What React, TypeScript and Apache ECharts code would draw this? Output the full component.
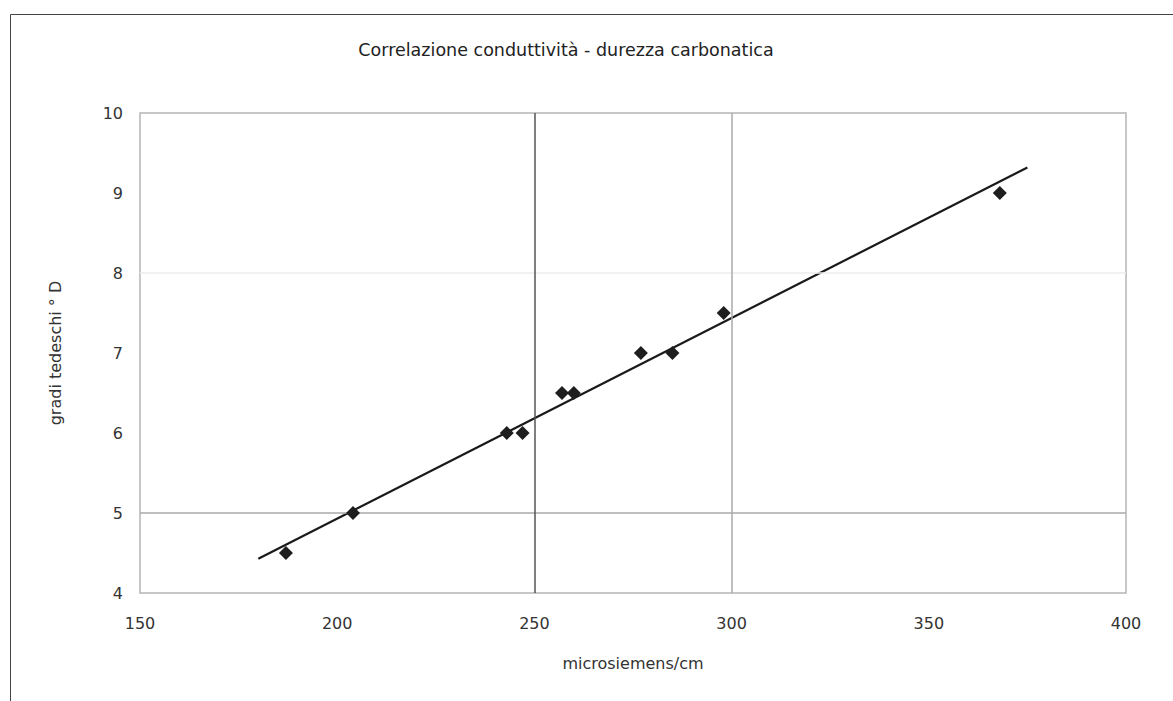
import React, { useEffect, useRef } from "react";
import * as echarts from "echarts";

const conductivity = [187, 204, 243, 247, 257, 260, 277, 285, 298, 368];
const hardness = [4.5, 5, 6, 6, 6.5, 6.5, 7, 7, 7.5, 9];
const trendRange = [180, 375];
const xTicks = [150, 200, 250, 300, 350, 400];
const yTicks = [4, 5, 6, 7, 8, 9, 10];

function regression(xs: number[], ys: number[]) {
  const n = xs.length;
  const mx = xs.reduce((a, b) => a + b, 0) / n;
  const my = ys.reduce((a, b) => a + b, 0) / n;
  let sxy = 0, sxx = 0;
  for (let i = 0; i < n; i++) {
    sxy += (xs[i] - mx) * (ys[i] - my);
    sxx += (xs[i] - mx) * (xs[i] - mx);
  }
  const slope = sxy / sxx;
  return { slope, intercept: my - slope * mx };
}

export default function App() {
  const ref = useRef<HTMLDivElement>(null);
  useEffect(() => {
    if (!ref.current) return;
    const chart = echarts.init(ref.current, null, { renderer: "svg" });
    const { slope, intercept } = regression(conductivity, hardness);
    const trend = trendRange.map((x) => [x, slope * x + intercept]);
    const font = "'DejaVu Sans', Verdana, sans-serif";
    chart.setOption({
      animation: false,
      backgroundColor: "#ffffff",
      title: {
        text: "Correlazione conduttività - durezza carbonatica",
        left: 561,
        top: 36,
        textAlign: "center",
        textStyle: { fontFamily: font, fontSize: 17.5, fontWeight: "normal", color: "#222" },
      },
      graphic: [
        {
          type: "rect",
          shape: { x: 10.5, y: 14.5, width: 1300, height: 900 },
          style: { fill: "none", stroke: "#444", lineWidth: 1 },
          silent: true,
        },
      ],
      grid: {
        left: 140,
        top: 113,
        right: 47,
        bottom: 108,
        show: true,
        borderColor: "#b5b5b5",
        borderWidth: 1.5,
      },
      xAxis: {
        type: "value",
        min: xTicks[0],
        max: xTicks[xTicks.length - 1],
        interval: 50,
        name: "microsiemens/cm",
        nameLocation: "middle",
        nameGap: 62,
        nameTextStyle: { fontFamily: font, fontSize: 16, color: "#333" },
        axisLine: { show: false },
        axisTick: { show: false },
        splitLine: { show: false },
        axisLabel: { margin: 22, fontFamily: font, fontSize: 16, color: "#333" },
      },
      yAxis: {
        type: "value",
        min: yTicks[0],
        max: yTicks[yTicks.length - 1],
        interval: 1,
        name: "gradi tedeschi ° D",
        nameLocation: "middle",
        nameGap: 77,
        nameTextStyle: { fontFamily: font, fontSize: 16, color: "#333" },
        axisLine: { show: false },
        axisTick: { show: false },
        splitLine: { show: false },
        axisLabel: { margin: 17, fontFamily: font, fontSize: 16, color: "#333" },
      },
      series: [
        {
          type: "scatter",
          data: conductivity.map((x, i) => [x, hardness[i]]),
          symbol: "diamond",
          symbolSize: 14,
          itemStyle: { color: "#1e1e1e", opacity: 1 },
          z: 5,
          markLine: {
            silent: true,
            symbol: "none",
            label: { show: false },
            data: [
              { yAxis: 5, lineStyle: { color: "#a8a8a8", width: 1.5, type: "solid" } },
              { yAxis: 8, lineStyle: { color: "#ececec", width: 1.5, type: "solid" } },
              { xAxis: 250, lineStyle: { color: "#555", width: 1.5, type: "solid" } },
              { xAxis: 300, lineStyle: { color: "#aaa", width: 1.5, type: "solid" } },
            ],
          },
        },
        {
          type: "line",
          data: trend,
          showSymbol: false,
          symbol: "none",
          lineStyle: { color: "#1a1a1a", width: 2.2 },
          z: 4,
        },
      ],
    });
    return () => chart.dispose();
  }, []);
  return (
    <div
      ref={ref}
      style={{ position: "fixed", left: 0, top: 0, width: 1173, height: 701 }}
    />
  );
}
